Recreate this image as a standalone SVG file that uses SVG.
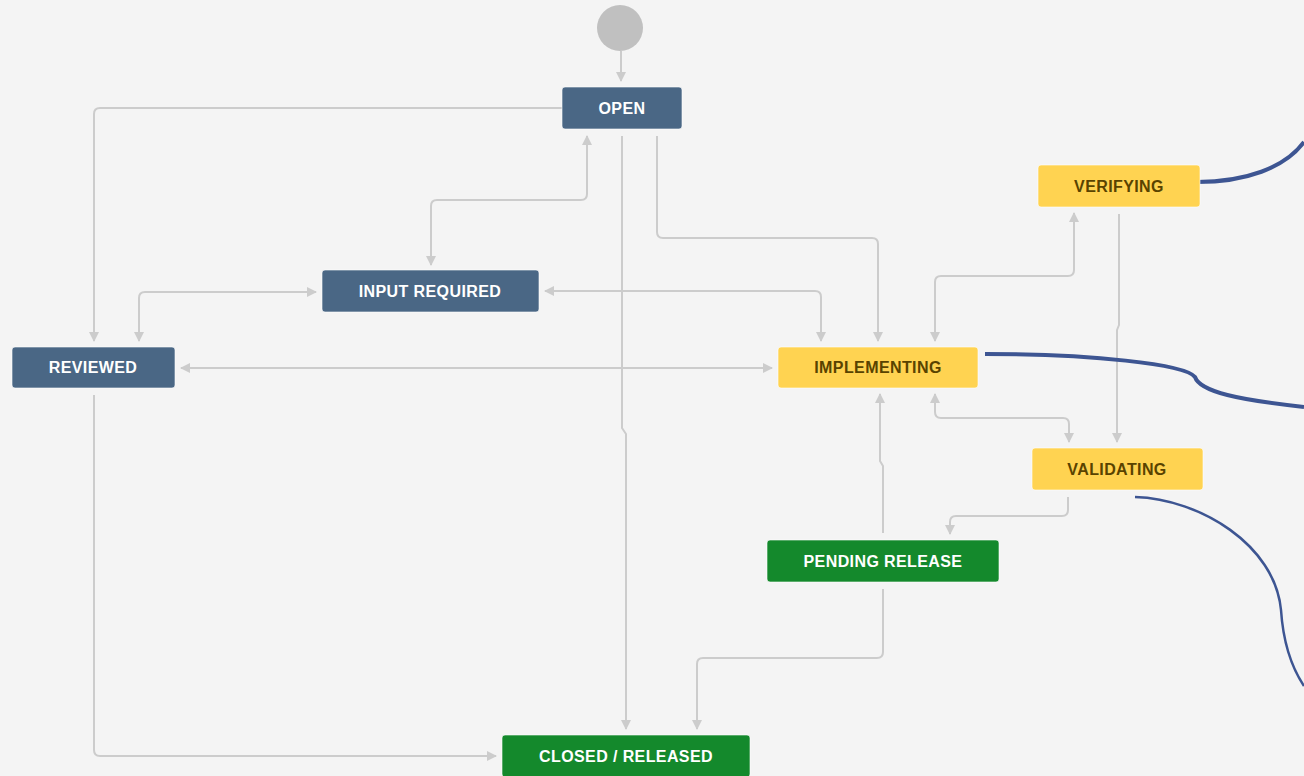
<svg xmlns="http://www.w3.org/2000/svg" width="1304" height="776" viewBox="0 0 1304 776">
<style>
.bg{fill:#f4f4f4}
.conn{fill:none;stroke:#cccccc;stroke-width:2;stroke-linejoin:round}
.blue{fill:none;stroke:#3d5592;stroke-linecap:butt}
.n rect{stroke:#ffffff;stroke-opacity:0.6;stroke-width:1}
.blueN rect{fill:#4a6785}
.yel rect{fill:#ffd351}
.grn rect{fill:#14892c}
.n text{font-family:"Liberation Sans",Arial,sans-serif;font-weight:bold;font-size:16px;letter-spacing:0.4px;text-anchor:middle;dominant-baseline:central}
.blueN text,.grn text{fill:#ffffff}
.yel text{fill:#594300}
</style>
<defs>
<marker id="ah" viewBox="0 0 10 10" refX="9" refY="5" markerWidth="10" markerHeight="10" markerUnits="userSpaceOnUse" orient="auto-start-reverse">
<path d="M0,0 L10,5 L0,10 Z" fill="#cccccc"/>
</marker>
</defs>
<rect class="bg" x="0" y="0" width="1304" height="776"/>

<g id="connectors">
<path class="conn" d="M621,51 V81" marker-end="url(#ah)"/>
<path class="conn" d="M562,108 H100 Q94,108 94,114 V341" marker-end="url(#ah)"/>
<path class="conn" d="M587,136 V194 Q587,200 581,200 H437 Q431,200 431,206 V265" marker-start="url(#ah)" marker-end="url(#ah)"/>
<path class="conn" d="M622,136 V428 L626,434 V729" marker-end="url(#ah)"/>
<path class="conn" d="M657,136 V232 Q657,238 663,238 H872 Q878,238 878,244 V341" marker-end="url(#ah)"/>
<path class="conn" d="M545,291 H815 Q821,291 821,297 V341" marker-start="url(#ah)" marker-end="url(#ah)"/>
<path class="conn" d="M139,341 V298 Q139,292 145,292 H316" marker-start="url(#ah)" marker-end="url(#ah)"/>
<path class="conn" d="M181,368 H772" marker-start="url(#ah)" marker-end="url(#ah)"/>
<path class="conn" d="M935,341 V282 Q935,276 941,276 H1068 Q1074,276 1074,270 V213" marker-start="url(#ah)" marker-end="url(#ah)"/>
<path class="conn" d="M1119,214 V325 L1117,330 V442" marker-end="url(#ah)"/>
<path class="conn" d="M935,394 V412 Q935,418 941,418 H1063 Q1069,418 1069,424 V442" marker-start="url(#ah)" marker-end="url(#ah)"/>
<path class="conn" d="M1068,497 V510 Q1068,516 1062,516 H956 Q950,516 950,522 V534" marker-end="url(#ah)"/>
<path class="conn" d="M883,533 V466 L880,461 V394" marker-end="url(#ah)"/>
<path class="conn" d="M883,589 V652 Q883,658 877,658 H703 Q697,658 697,664 V729" marker-end="url(#ah)"/>
<path class="conn" d="M94,395 V750 Q94,756 100,756 H496" marker-end="url(#ah)"/>
</g>

<g id="annotations">
<path class="blue" stroke-width="4" d="M1197,182 C1245,182 1285,168 1304,142"/>
<path class="blue" stroke-width="4" d="M985,354 C1090,354 1185,364 1195,377 C1200,392 1240,400 1304,407"/>
<path class="blue" stroke-width="2.5" d="M1135,497 C1200,499 1275,545 1281,610 C1283,640 1290,665 1304,686"/>
</g>

<g id="start"><circle cx="620" cy="28" r="23" fill="#c0c0c0"/></g>

<g id="open" class="n blueN"><rect x="562" y="87" width="120" height="42" rx="3"/><text x="622" y="108">OPEN</text></g>
<g id="input-required" class="n blueN"><rect x="322" y="270" width="217" height="42" rx="3"/><text x="430" y="291">INPUT REQUIRED</text></g>
<g id="reviewed" class="n blueN"><rect x="12" y="347" width="163" height="41" rx="3"/><text x="93" y="367.5">REVIEWED</text></g>
<g id="implementing" class="n yel"><rect x="778" y="347" width="200" height="41" rx="3"/><text x="878" y="367.5">IMPLEMENTING</text></g>
<g id="verifying" class="n yel"><rect x="1038" y="165" width="162" height="42" rx="3"/><text x="1119" y="186">VERIFYING</text></g>
<g id="validating" class="n yel"><rect x="1032" y="448" width="171" height="42" rx="3"/><text x="1117" y="469">VALIDATING</text></g>
<g id="pending-release" class="n grn"><rect x="767" y="540" width="232" height="42" rx="3"/><text x="883" y="561">PENDING RELEASE</text></g>
<g id="closed-released" class="n grn"><rect x="502" y="735" width="248" height="42" rx="3"/><text x="626" y="756">CLOSED / RELEASED</text></g>
</svg>
